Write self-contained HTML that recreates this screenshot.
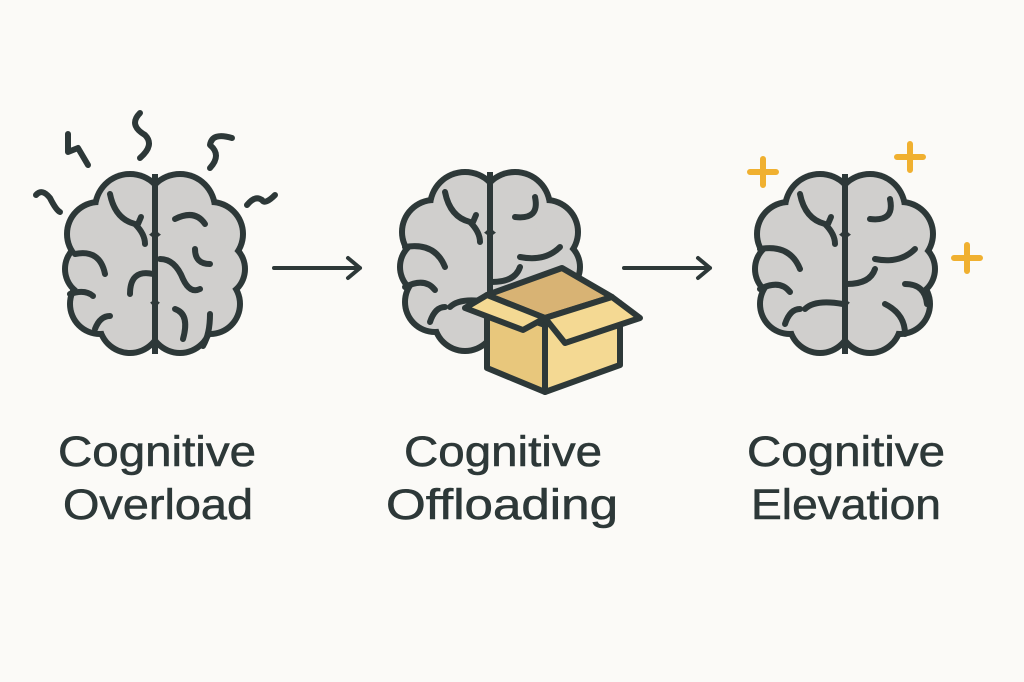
<!DOCTYPE html>
<html><head><meta charset="utf-8"><style>
html,body{margin:0;padding:0;background:#fbfaf7;}
svg{display:block;}
text{font-family:"Liberation Sans",sans-serif;font-size:43px;fill:#2d3838;stroke:#2d3838;stroke-width:0.6px;text-anchor:middle;}
</style></head><body>
<svg width="1024" height="682" viewBox="0 0 1024 682">
<defs>
<g id="brainbase">
  <g fill="#2d3838">
    <circle cx="-25" cy="-55" r="38"/><circle cx="-56" cy="-30" r="35"/><circle cx="-62" cy="5" r="31"/>
    <circle cx="-55" cy="40" r="33"/><circle cx="-25" cy="58" r="34"/><circle cx="-30" cy="5" r="48"/>
    <circle cx="25" cy="-55" r="38"/><circle cx="56" cy="-30" r="35"/><circle cx="62" cy="5" r="31"/>
    <circle cx="55" cy="40" r="33"/><circle cx="25" cy="58" r="34"/><circle cx="30" cy="5" r="48"/>
  </g>
  <g fill="#d0cfcd">
    <circle cx="-25" cy="-55" r="32"/><circle cx="-56" cy="-30" r="29"/><circle cx="-62" cy="5" r="25"/>
    <circle cx="-55" cy="40" r="27"/><circle cx="-25" cy="58" r="28"/><circle cx="-30" cy="5" r="42"/>
    <circle cx="25" cy="-55" r="32"/><circle cx="56" cy="-30" r="29"/><circle cx="62" cy="5" r="25"/>
    <circle cx="55" cy="40" r="27"/><circle cx="25" cy="58" r="28"/><circle cx="30" cy="5" r="42"/>
  </g>
  <rect x="-3" y="-90" width="6" height="180" fill="#2d3838"/>
</g>
<g id="brain">
  <use href="#brainbase"/>
  <g fill="none" stroke="#2d3838" stroke-width="6" stroke-linecap="round">
    <path d="M-45,-70 Q-40,-45 -20,-40 Q-10,-30 -10,-20"/>
    <path d="M-17,-40 L-14,-47"/>
    <path d="M-85,-15 Q-55,-20 -45,5"/>
    <path d="M-85,25 Q-65,15 -55,28"/>
    <path d="M-60,60 Q-55,45 -45,45"/>
    <path d="M-2,40 Q-30,35 -40,45"/>
    <path d="M25,-45 Q50,-42 45,-65"/>
    <path d="M30,-5 Q55,0 70,-15"/>
    <path d="M60,20 Q80,20 82,40"/>
    <path d="M40,40 Q60,50 60,70"/>
    <path d="M2,20 Q25,20 30,5"/>
  </g>
</g>
<g id="brain1">
  <use href="#brainbase"/>
  <g fill="none" stroke="#2d3838" stroke-width="6" stroke-linecap="round">
    <path d="M-45,-70 Q-40,-45 -20,-40 Q-10,-30 -10,-20"/>
    <path d="M-17,-40 L-14,-47"/>
    <path d="M-80,-10 Q-55,-15 -50,10"/>
    <path d="M-85,30 Q-70,25 -62,32"/>
    <path d="M-60,65 Q-55,52 -45,52"/>
    <path d="M-2,10 Q-25,5 -25,30"/>
    <path d="M20,-45 Q40,-55 50,-40"/>
    <path d="M40,-15 Q40,0 55,0"/>
    <path d="M5,-5 Q20,-5 28,15 Q35,30 45,25"/>
    <path d="M20,45 Q35,50 28,75"/>
    <path d="M55,50 Q55,70 48,82"/>
  </g>
</g>
</defs>

<use href="#brain1" x="155" y="264"/>
<g fill="none" stroke="#2d3838" stroke-width="6" stroke-linecap="round" stroke-linejoin="round">
  <path d="M68,134 L68,152 L78,148 L88,165"/>
  <path d="M140,113 Q128,125 145,135 Q155,145 140,158"/>
  <path d="M232,138 Q212,132 210,145 Q222,155 210,168"/>
  <path d="M36,195 Q42,188 50,198 Q56,210 60,212"/>
  <path d="M247,205 Q255,195 262,200 Q265,205 275,195"/>
</g>

<use href="#brain" x="490" y="262"/>
<g stroke="#2d3838" stroke-width="6" stroke-linejoin="round">
  <polygon points="487,295 562,268 612,297 545,318" fill="#d8b374"/>
  <polygon points="487,305 545,325 545,392 487,368" fill="#e8c77c"/>
  <polygon points="545,325 620,303 620,365 545,392" fill="#f4d993"/>
  <polygon points="487,295 545,318 523,330 465,308" fill="#f4d993"/>
  <polygon points="545,318 612,297 640,318 565,343" fill="#f4d993"/>
</g>

<use href="#brain" x="845" y="264"/>
<g stroke="#f0b030" stroke-width="6" stroke-linecap="round">
  <path d="M750,172 H776 M763,159 V185"/>
  <path d="M897,157 H923 M910,144 V170"/>
  <path d="M954,258 H980 M967,245 V271"/>
</g>

<g stroke="#2d3838" stroke-width="4" fill="none" stroke-linecap="round" stroke-linejoin="round">
  <path d="M274,268 H360 M348,258 L360,268 L348,278"/>
  <path d="M624,268 H710 M698,258 L710,268 L698,278"/>
</g>

<text x="157" y="466" textLength="198" lengthAdjust="spacingAndGlyphs">Cognitive</text>
<text x="158" y="519" textLength="190" lengthAdjust="spacingAndGlyphs">Overload</text>
<text x="503" y="466" textLength="198" lengthAdjust="spacingAndGlyphs">Cognitive</text>
<text x="502" y="519" textLength="232" lengthAdjust="spacingAndGlyphs">Offloading</text>
<text x="846" y="466" textLength="198" lengthAdjust="spacingAndGlyphs">Cognitive</text>
<text x="846" y="519" textLength="190" lengthAdjust="spacingAndGlyphs">Elevation</text>
</svg>
</body></html>
